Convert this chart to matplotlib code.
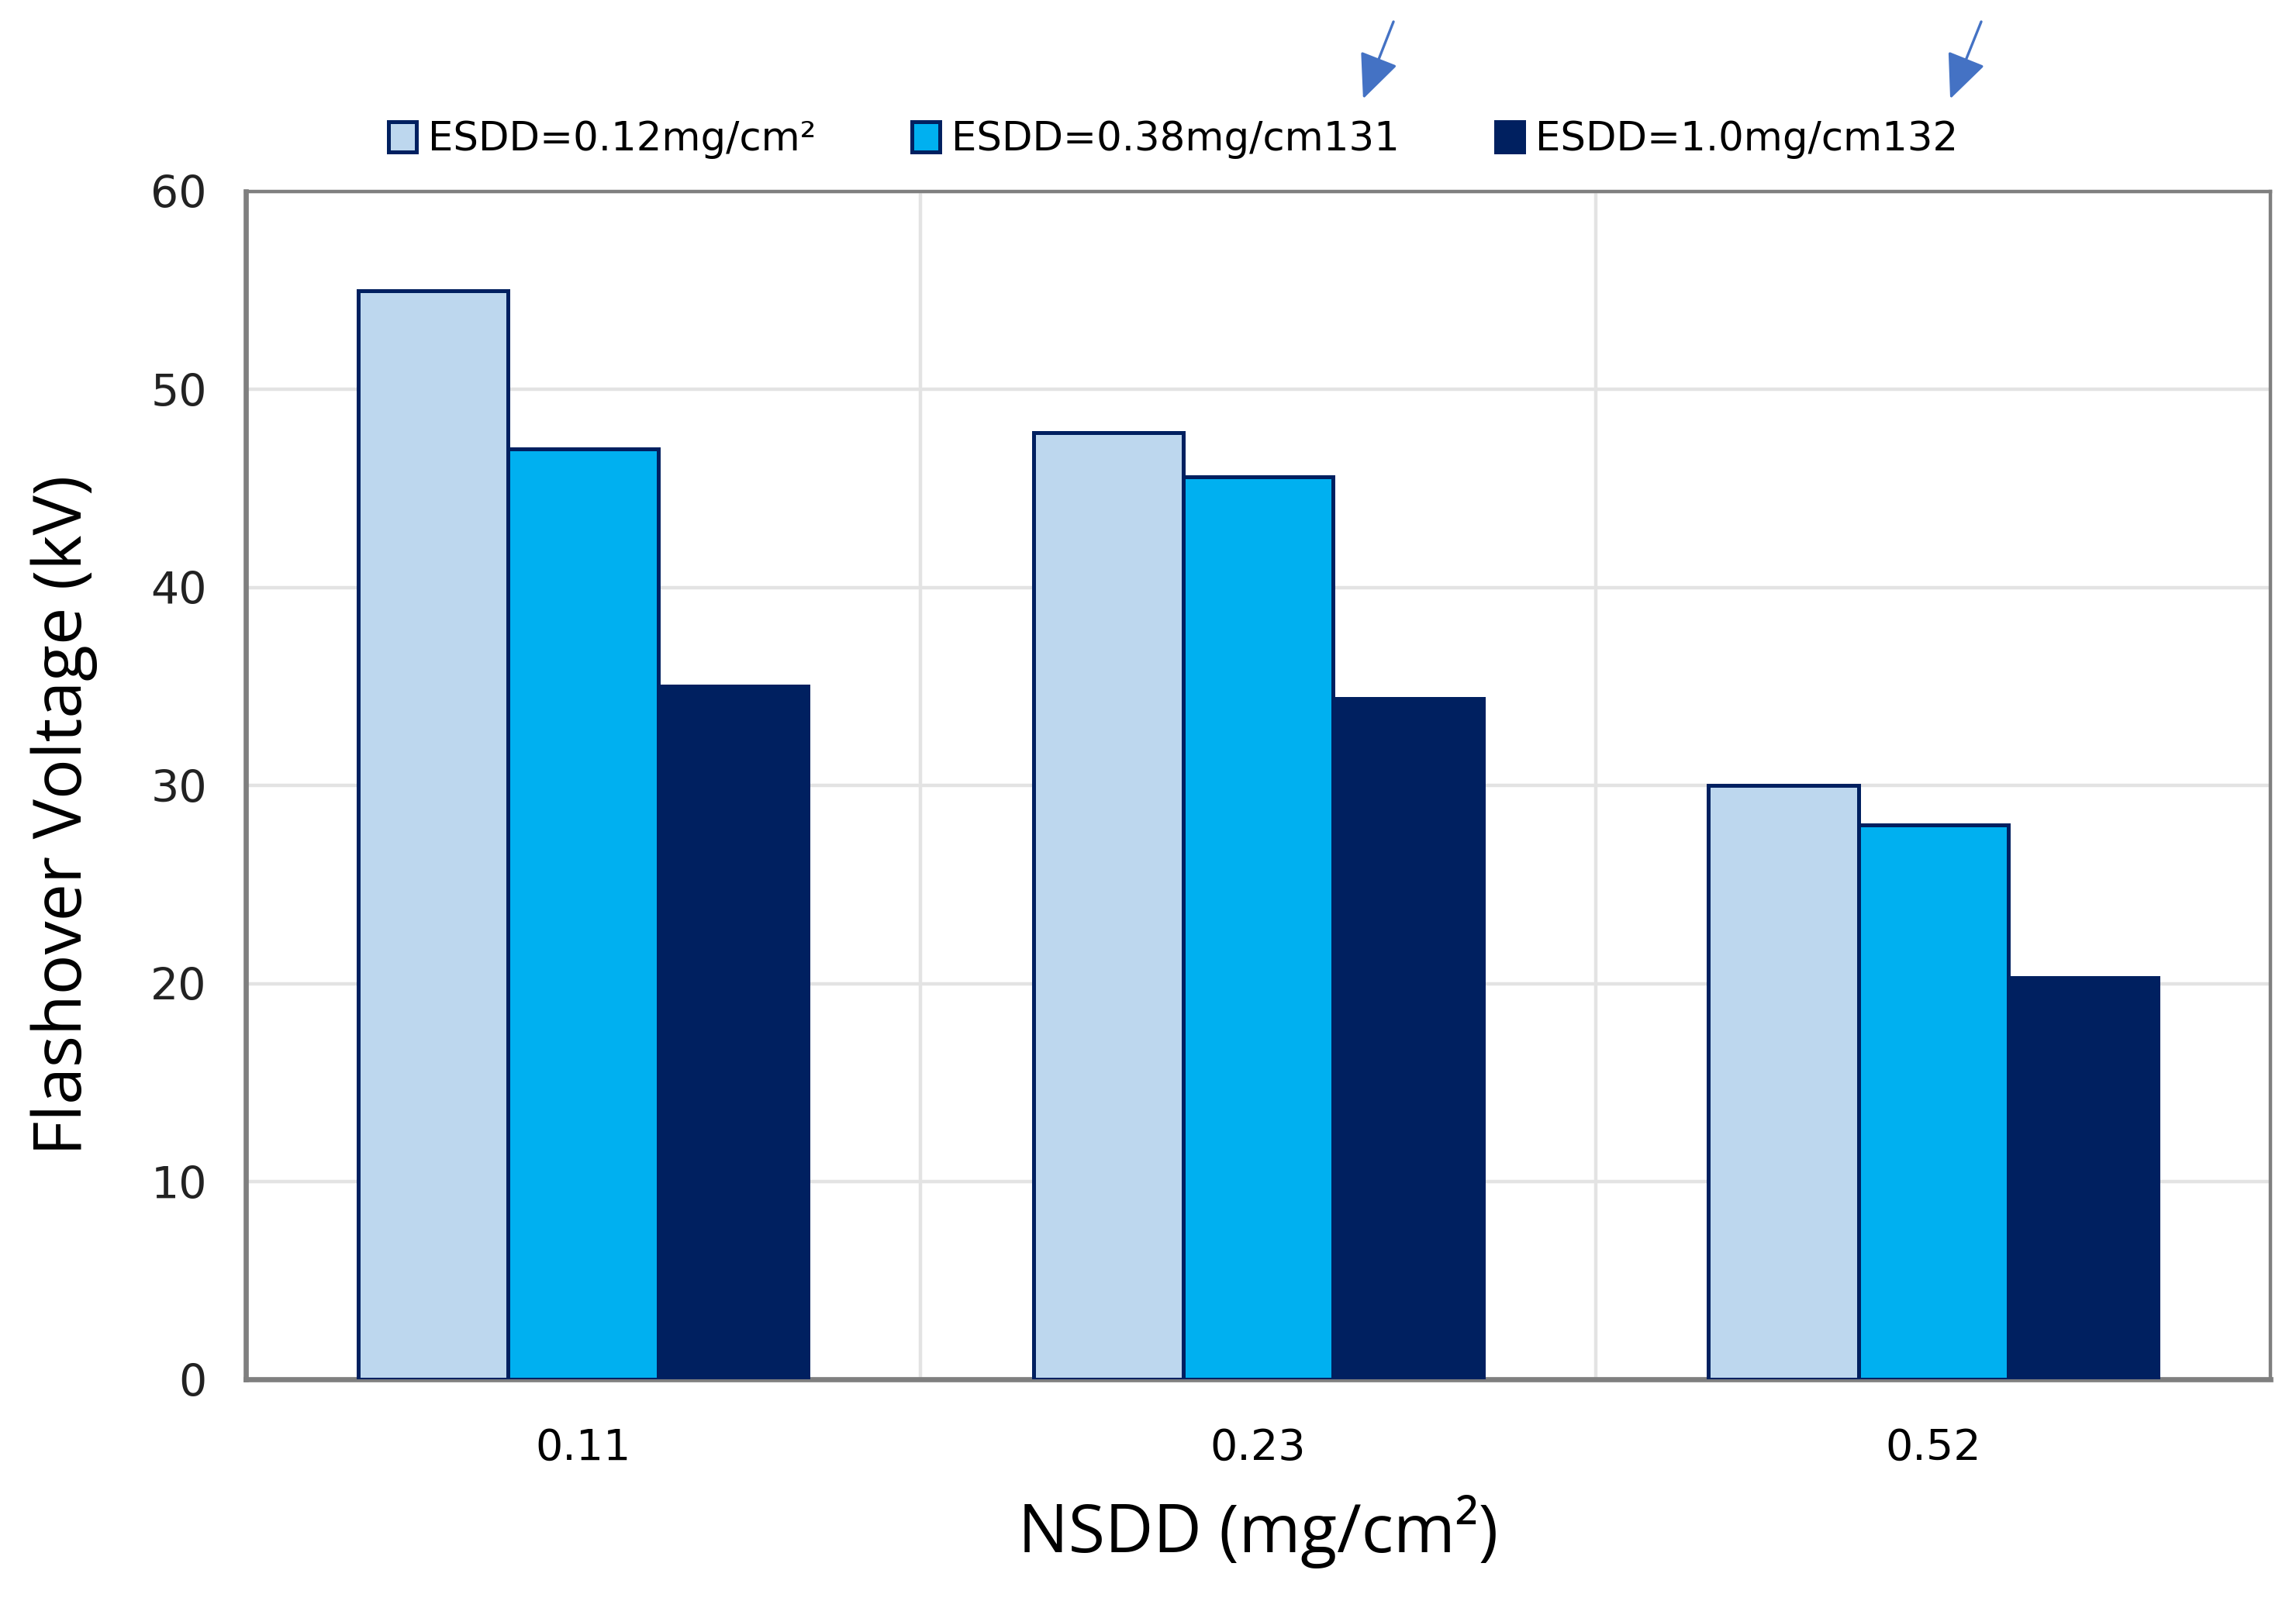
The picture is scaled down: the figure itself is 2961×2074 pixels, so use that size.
import numpy as np
import matplotlib
matplotlib.use("Agg")
import matplotlib.pyplot as plt

# data
nsdd = ['0.11', '0.23', '0.52']
series_labels = ['ESDD=0.12mg/cm²', 'ESDD=0.38mg/cm131', 'ESDD=1.0mg/cm132']
esdd_012 = [55.0, 47.8, 30.0]
esdd_038 = [47.0, 45.6, 28.0]
esdd_100 = [35.0, 34.4, 20.3]

colors = ['#BDD7EE', '#00B0F0', '#002060']
edge = '#002060'

fig = plt.figure(figsize=(14.805, 10.37), dpi=200)
ax = fig.add_axes([0.107, 0.142, 0.882, 0.739])

x = np.arange(len(nsdd))
width = 0.222
for i, (vals, lab) in enumerate(zip([esdd_012, esdd_038, esdd_100], series_labels)):
    ax.bar(x + (i - 1) * width, vals, width, color=colors[i], edgecolor=edge,
           linewidth=1.8, label=lab, zorder=3)

ax.set_xlim(-0.5, 2.5)
ax.set_ylim(0, 60)
ax.set_yticks(np.arange(0, 61, 10))
ax.set_xticks(x)
ax.set_xticklabels(nsdd, fontsize=20)
ax.set_xticks([0.5, 1.5], minor=True)
ax.tick_params(axis='both', which='both', length=0)
ax.tick_params(axis='y', labelsize=20.5, pad=18)
ax.tick_params(axis='x', pad=22)
for lbl in ax.get_yticklabels():
    lbl.set_color('#222222')

ax.grid(axis='y', color='#E3E3E3', linewidth=1.6, zorder=0)
ax.grid(axis='x', which='minor', color='#E3E3E3', linewidth=1.6, zorder=0)

for s in ax.spines.values():
    s.set_color('#7F7F7F')
    s.set_linewidth(1.6)
ax.spines['left'].set_linewidth(2.4)
ax.spines['bottom'].set_linewidth(2.4)

ax.set_ylabel('Flashover Voltage (kV)', fontsize=31, family='Open Sans')
ax.yaxis.set_label_coords(-0.073, 0.475)
ax.set_xlabel('NSDD (mg/cm²)', fontsize=31, labelpad=12, family='Open Sans')

leg = fig.legend(loc='center', bbox_to_anchor=(0.511, 0.913), ncol=3, frameon=False,
                 fontsize=18.5, handlelength=0.7, handleheight=0.8, handletextpad=0.3,
                 columnspacing=2.4)

# blue arrows above the legend
for xs, xe in [(0.6076, 0.593), (0.8636, 0.8487)]:
    fig.add_artist(matplotlib.patches.FancyArrowPatch(
        (xs, 0.989), (xe, 0.936), transform=fig.transFigure,
        arrowstyle='-|>,head_length=18,head_width=8', color='#4472C4', linewidth=1.2))

fig.savefig('out.png', dpi=200, facecolor='white')
